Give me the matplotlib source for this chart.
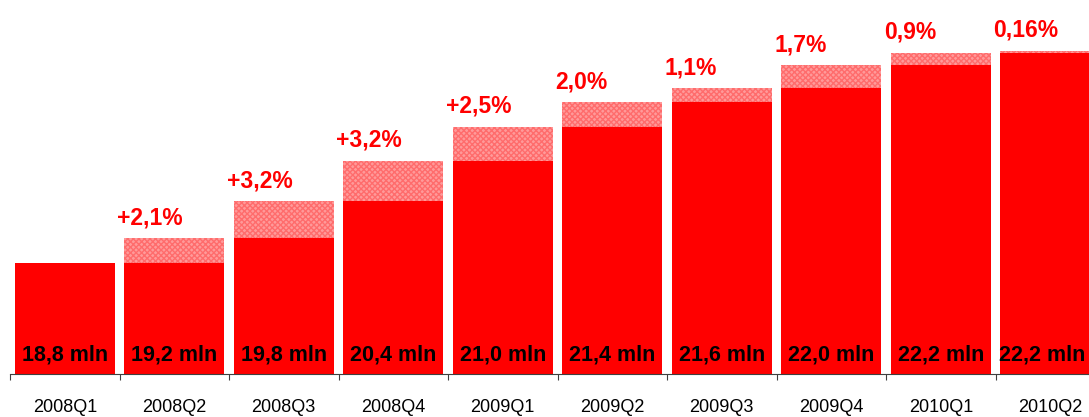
import numpy as np
import matplotlib.pyplot as plt

quarters = ['2008Q1', '2008Q2', '2008Q3', '2008Q4', '2009Q1',
            '2009Q2', '2009Q3', '2009Q4', '2010Q1', '2010Q2']
values = [18.8, 19.2, 19.8, 20.45, 21.0, 21.4, 21.62, 22.0, 22.2, 22.23]
value_labels = ['18,8 mln', '19,2 mln', '19,8 mln', '20,4 mln', '21,0 mln',
                '21,4 mln', '21,6 mln', '22,0 mln', '22,2 mln', '22,2 mln']
growth_labels = ['', '+2,1%', '+3,2%', '+3,2%', '+2,5%',
                 '2,0%', '1,1%', '1,7%', '0,9%', '0,16%']

plt.rcParams['font.family'] = ['Liberation Sans', 'DejaVu Sans']

fig = plt.figure(figsize=(10.89, 4.17), dpi=100)
ax = fig.add_axes([10 / 1089, 43 / 417, 1095 / 1089, 374 / 417])

x = np.arange(len(quarters))
vals = np.array(values)
prev = np.concatenate([[vals[0]], vals[:-1]])
w = 0.913

ax.bar(x, prev, width=w, color='#ff0000', linewidth=0)
ax.bar(x[1:], vals[1:] - prev[1:], bottom=prev[1:], width=w,
       facecolor='#ff9a9a', edgecolor='#ff6c6c', hatch='xxxxxx', linewidth=0)

ymin = 17.0
for i in range(len(quarters)):
    # last bar is cut by the figure edge, keep its label inside
    dx = -6 if i == len(quarters) - 1 else 0
    ax.annotate(value_labels[i], (x[i], ymin), xytext=(dx, 10),
                textcoords='offset points', ha='center', va='baseline',
                fontsize=15.5, fontweight='bold', color='black')
    if growth_labels[i]:
        ax.annotate(growth_labels[i], (x[i] - w / 2, vals[i]), xytext=(-5, 10),
                    textcoords='offset points', ha='left', va='baseline',
                    fontsize=16.5, fontweight='bold', color='#ff0000')

ax.set_xlim(-0.5, 9.5)
ax.set_ylim(ymin, ymin + 374 / 61.8)

for s in ['top', 'left', 'right']:
    ax.spines[s].set_visible(False)
ax.spines['bottom'].set_color('#404040')
ax.spines['bottom'].set_linewidth(0.8)
ax.set_yticks([])
ax.set_xticks(x)
ax.set_xticklabels(quarters, fontsize=13)
ax.tick_params(axis='x', which='major', length=0, pad=18)
ax.set_xticks(np.arange(-0.5, 10, 1), minor=True)
ax.tick_params(axis='x', which='minor', length=4.5, width=0.8, color='#404040')

fig.savefig('out.png', dpi=100)
